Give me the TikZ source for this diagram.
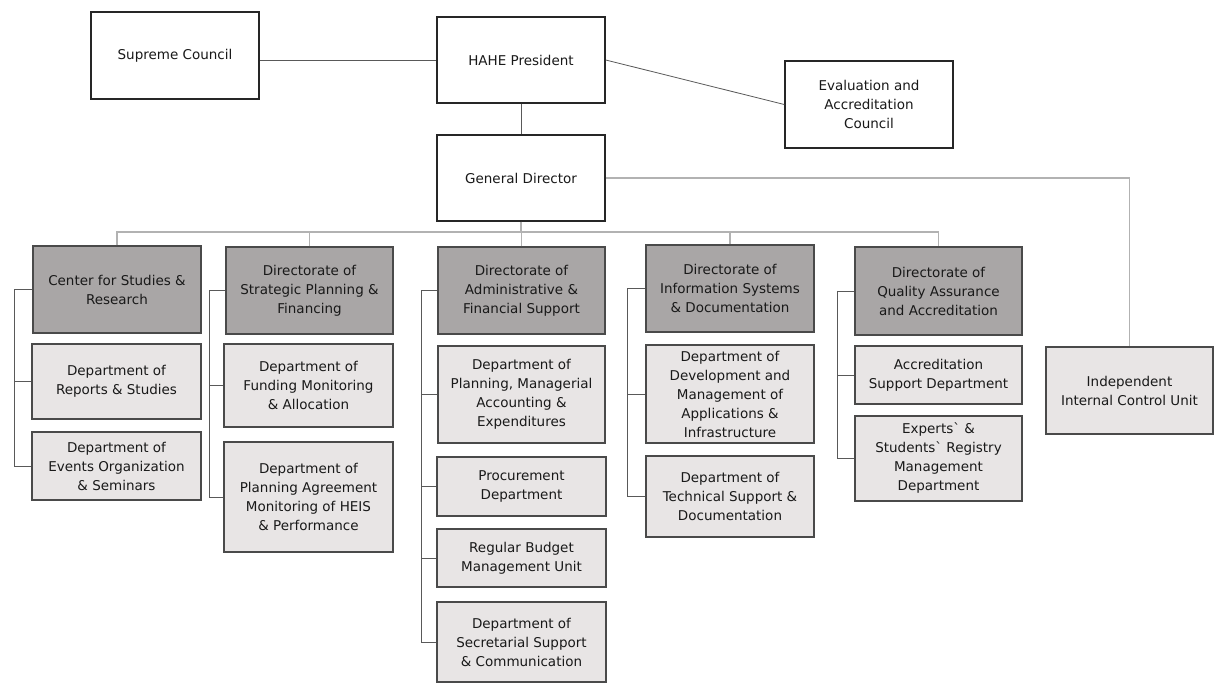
\documentclass[tikz,border=0pt]{standalone}
\usepackage{fontspec}
\setmainfont{DejaVu Sans}
\definecolor{dirgray}{HTML}{A9A6A6}
\definecolor{depgray}{HTML}{E8E5E5}
\definecolor{edge}{HTML}{4A4A4A}
\begin{document}
\begin{tikzpicture}[x=1pt,y=-1pt,
  box/.style={draw=edge, line width=1.3pt, align=center, inner sep=0pt,
    font=\fontsize{13.5}{19}\selectfont, text=black!90},
  topbox/.style={box, fill=white, draw=black!85, line width=1.5pt},
  dirbox/.style={box, fill=dirgray},
  depbox/.style={box, fill=depgray},
  conn/.style={draw=black!65, line width=0.8pt},
  bus/.style={draw=black!30, line width=1.5pt}]
\useasboundingbox[fill=white] (0,0) rectangle (1214,684);

% top level
\node[topbox, minimum width=168pt, minimum height=87pt] (sc) at (175,55.5) {Supreme Council};
\node[topbox, minimum width=168pt, minimum height=86pt] (hahe) at (521,60) {HAHE President};
\node[topbox, minimum width=168pt, minimum height=87pt] (eval) at (869,104.5) {Evaluation and\\Accreditation\\Council};
\node[topbox, minimum width=168pt, minimum height=86pt] (gd) at (521,178) {General Director};

% directorates
\node[dirbox, minimum width=168pt, minimum height=87pt] (cen) at (117,289.5) {Center for Studies \&\\Research};
\node[dirbox, minimum width=167pt, minimum height=87pt] (sp) at (309.5,290.5) {Directorate of\\Strategic Planning \&\\Financing};
\node[dirbox, minimum width=167pt, minimum height=87pt] (adm) at (521.5,290.5) {Directorate of\\Administrative \&\\Financial Support};
\node[dirbox, minimum width=168pt, minimum height=87pt] (inf) at (730,288.5) {Directorate of\\Information Systems\\\& Documentation};
\node[dirbox, minimum width=167pt, minimum height=88pt] (qa) at (938.5,291) {Directorate of\\Quality Assurance\\and Accreditation};

% departments
\node[depbox, minimum width=169pt, minimum height=75pt] (rep) at (116.5,381.5) {Department of\\Reports \& Studies};
\node[depbox, minimum width=169pt, minimum height=68pt] (evt) at (116.5,466) {Department of\\Events Organization\\\& Seminars};
\node[depbox, minimum width=169pt, minimum height=83pt] (fund) at (308.5,385.5) {Department of\\Funding Monitoring\\\& Allocation};
\node[depbox, minimum width=169pt, minimum height=110pt] (pla) at (308.5,497) {Department of\\Planning Agreement\\Monitoring of HEIS\\\& Performance};
\node[depbox, minimum width=167pt, minimum height=97pt] (pman) at (521.5,394.5) {Department of\\Planning, Managerial\\Accounting \&\\Expenditures};
\node[depbox, minimum width=169pt, minimum height=59pt] (proc) at (521.5,486.5) {Procurement\\Department};
\node[depbox, minimum width=169pt, minimum height=58pt] (rbud) at (521.5,558) {Regular Budget\\Management Unit};
\node[depbox, minimum width=169pt, minimum height=80pt] (sec) at (521.5,642) {Department of\\Secretarial Support\\\& Communication};
\node[depbox, minimum width=168pt, minimum height=98pt] (dev) at (730,394) {Department of\\Development and\\Management of\\Applications \&\\Infrastructure};
\node[depbox, minimum width=168pt, minimum height=81pt] (tech) at (730,496.5) {Department of\\Technical Support \&\\Documentation};
\node[depbox, minimum width=167pt, minimum height=58pt] (accs) at (938.5,375) {Accreditation\\Support Department};
\node[depbox, minimum width=167pt, minimum height=85pt] (exp) at (938.5,458.5) {Experts\textasciigrave\ \&\\Students\textasciigrave\ Registry\\Management\\Department};
\node[depbox, minimum width=167pt, minimum height=87pt] (ind) at (1129.5,390.5) {Independent\\Internal Control Unit};

% top connectors
\draw[conn] (hahe.west -| sc.east) -- (hahe.west);
\draw[conn] (hahe.east) -- (eval.west);
\draw[conn] (hahe.south) -- (gd.north);
\draw[bus] (gd.east) -| (ind.north);

% bus
\coordinate (busy) at (0,232);
\draw[bus] (gd.south) -- (gd.south |- busy);
\draw[bus] (cen.north) -- (cen.north |- busy) -- (qa.north |- busy) -- (qa.north);
\draw[bus] (sp.north) -- (sp.north |- busy);
\draw[bus] (adm.north) -- (adm.north |- busy);
\draw[bus] (inf.north) -- (inf.north |- busy);

% brackets
\coordinate (cenb) at (14,0);
\coordinate (spb) at (209,0);
\coordinate (admb) at (421,0);
\coordinate (infb) at (627,0);
\coordinate (qab) at (837,0);
\draw[conn] (cen.west) -- (cen.west -| cenb) |- (rep.west);
\draw[conn] (cen.west -| cenb) |- (evt.west);
\draw[conn] (sp.west) -- (sp.west -| spb) |- (fund.west);
\draw[conn] (sp.west -| spb) |- (pla.west);
\draw[conn] (adm.west) -- (adm.west -| admb) |- (pman.west);
\draw[conn] (adm.west -| admb) |- (proc.west);
\draw[conn] (adm.west -| admb) |- (rbud.west);
\draw[conn] (adm.west -| admb) |- (sec.west);
\draw[conn] (inf.west) -- (inf.west -| infb) |- (dev.west);
\draw[conn] (inf.west -| infb) |- (tech.west);
\draw[conn] (qa.west) -- (qa.west -| qab) |- (accs.west);
\draw[conn] (qa.west -| qab) |- (exp.west);
\end{tikzpicture}
\end{document}
